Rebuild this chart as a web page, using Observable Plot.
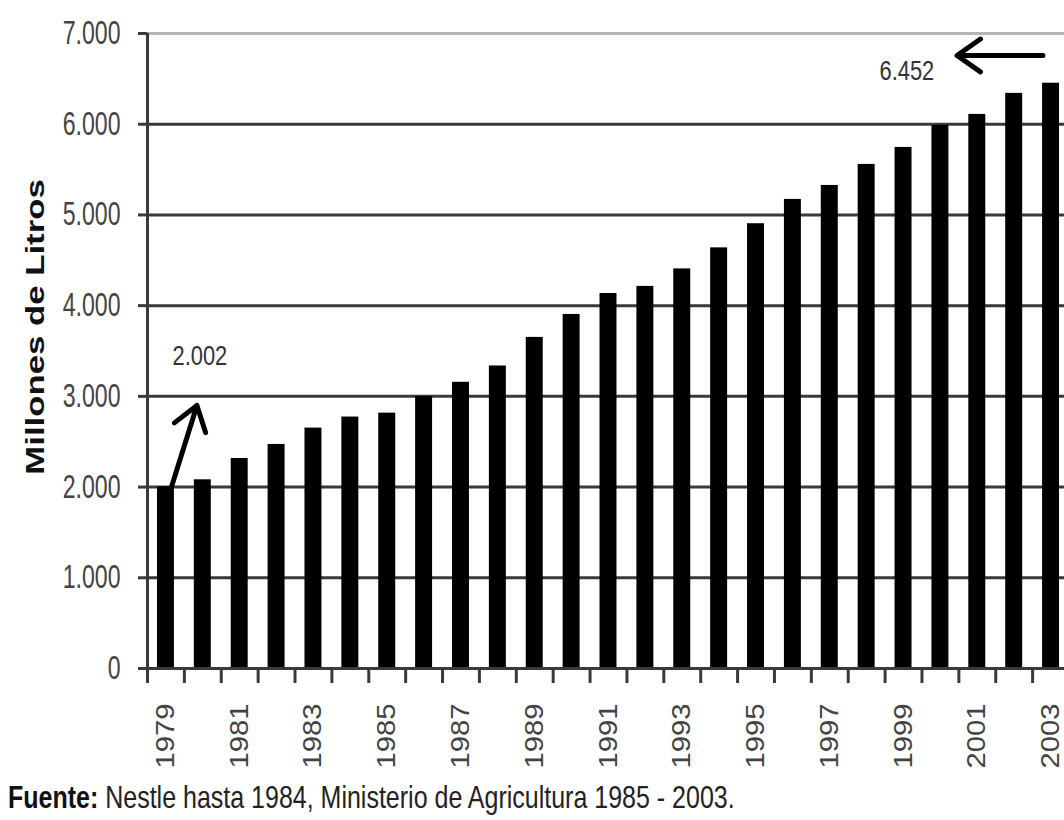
<!DOCTYPE html>
<html><head><meta charset="utf-8">
<script src="https://cdn.jsdelivr.net/npm/d3@7"></script>
<script src="https://cdn.jsdelivr.net/npm/@observablehq/plot@0.6"></script>
<style>
html,body{margin:0;padding:0;background:#fff;overflow:hidden;}
#chart svg{display:block;overflow:hidden;}
#caption svg{display:block;}
</style></head><body>
<div id="chart"></div>
<div id="caption"></div>
<script>
// Data
const years = [1979,1980,1981,1982,1983,1984,1985,1986,1987,1988,1989,1990,1991,1992,1993,1994,1995,1996,1997,1998,1999,2000,2001,2002,2003];
const values = [2002,2080,2315,2470,2650,2772,2815,3000,3155,3335,3650,3903,4134,4212,4405,4637,4903,5171,5325,5557,5744,5987,6108,6340,6452];
const yTicks = [0,1000,2000,3000,4000,5000,6000,7000];
const xLabelYears = [1979,1981,1983,1985,1987,1989,1991,1993,1995,1997,1999,2001,2003];
const yTitle = "Millones de Litros";
const captionBold = "Fuente:";
const captionText = " Nestle hasta 1984, Ministerio de Agricultura 1985 - 2003.";
// Annotations (data units)
const annoText = ["2.002","6.452"];
const annoTextYear = [1979.92, 1999.09];
const annoTextValue = [3450, 6590];
const arrowYear1 = [1979.15, 2002.78];
const arrowValue1 = [2000, 6758];
const arrowYear2 = [1979.84, 2000.45];
const arrowValue2 = [2900, 6758];

const data = years.map((y,i)=>({year:y, value:values[i]}));
const boundaries = years.map(y=>y-0.5);
const fmt = d => d3.format(",")(d).replace(/,/g,".");
const font = '"Liberation Sans",Arial,sans-serif';
const A = d3.range(annoText.length);
const half = 0.23;

const chart = Plot.plot({
  width: 1064,
  height: 778,
  marginTop: 33,
  marginBottom: 110,
  marginLeft: 147,
  marginRight: 0,
  style: {fontFamily: font},
  x: {type: "linear", domain: [1978.5, 2003.5], range: [147, 1069]},
  y: {domain: [0, 7000]},
  marks: [
    Plot.ruleY(yTicks.filter(d=>d>0 && d<7000), {stroke: "#3a3a3a", strokeWidth: 3}),
    Plot.ruleY([7000], {stroke: "#b5b5b5", strokeWidth: 3}),
    Plot.rectY(data, {x1: d=>d.year-half, x2: d=>d.year+half, y: "value", fill: "#000"}),
    Plot.ruleY([0], {stroke: "#3a3a3a", strokeWidth: 3}),
    Plot.ruleX([1978.5], {y1: 0, y2: 7000, stroke: "#3a3a3a", strokeWidth: 3}),
    Plot.axisY({ticks: yTicks, label: null, tickSize: 9, tickPadding: 18, tickFormat: fmt, stroke: "#3a3a3a", strokeWidth: 3, fill: "#444", fontSize: 33, fontFamily: font}),
    Plot.axisX({ticks: boundaries, label: null, tickSize: 15, tickFormat: () => "", stroke: "#3a3a3a", strokeWidth: 3}),
    Plot.axisX({ticks: xLabelYears, label: null, tickSize: 0, tickPadding: 35, tickRotate: -90, tickFormat: d=>String(d), fill: "#444", fontSize: 25, fontFamily: font}),
    Plot.text([yTitle], {text: d=>d, frameAnchor: "left", dx: -112, dy: -24, rotate: -90, textAnchor: "middle", fontWeight: "bold", fontSize: 25, fontFamily: font, fill: "#111"}),
    Plot.arrow(A, {x1: i=>arrowYear1[i], y1: i=>arrowValue1[i], x2: i=>arrowYear2[i], y2: i=>arrowValue2[i], stroke: "#000", strokeWidth: 5, headLength: 9, headAngle: 70}),
    Plot.text(A, {x: i=>annoTextYear[i], y: i=>annoTextValue[i], text: i=>annoText[i], fontSize: 28, fontFamily: font, fill: "#333"})
  ]
});
document.getElementById("chart").appendChild(chart);

// Caption below the chart (one text, condensed horizontally with a transform)
const cap = d3.select("#caption").append("svg").attr("width", 1064).attr("height", 42);
const capG = cap.append("g");
const capText = capG.append("text").attr("x", 0).attr("y", 0)
  .attr("font-family", font).attr("font-size", 32).attr("fill", "#222");
capText.append("tspan").attr("font-weight", "bold").attr("fill", "#111").text(captionBold);
capText.append("tspan").text(captionText);
const capLen = capText.node().getComputedTextLength() || 727;
capG.attr("transform", `translate(8,30) scale(${727 / capLen},1)`);

// Condense/stretch texts along their reading direction to match the reference's proportions
function fit(nodes, f) {
  nodes.forEach(el => {
    const s = el.textContent;
    if (!s) return;
    const L = el.getComputedTextLength();
    if (L > 0) { el.setAttribute("textLength", L * f); el.setAttribute("lengthAdjust", "spacingAndGlyphs"); }
  });
}
const svg = d3.select(chart);
fit(svg.selectAll("g[aria-label='y-axis tick label'] text").nodes(), 0.70);
fit(svg.selectAll("g[aria-label='x-axis tick label'] text").nodes(), 1.17);
const texts = svg.selectAll("g[aria-label='text'] text").nodes();
fit(texts.filter(t => t.textContent === yTitle), 1.39);
fit(texts.filter(t => annoText.includes(t.textContent)), 0.78);
</script>
</body></html>
